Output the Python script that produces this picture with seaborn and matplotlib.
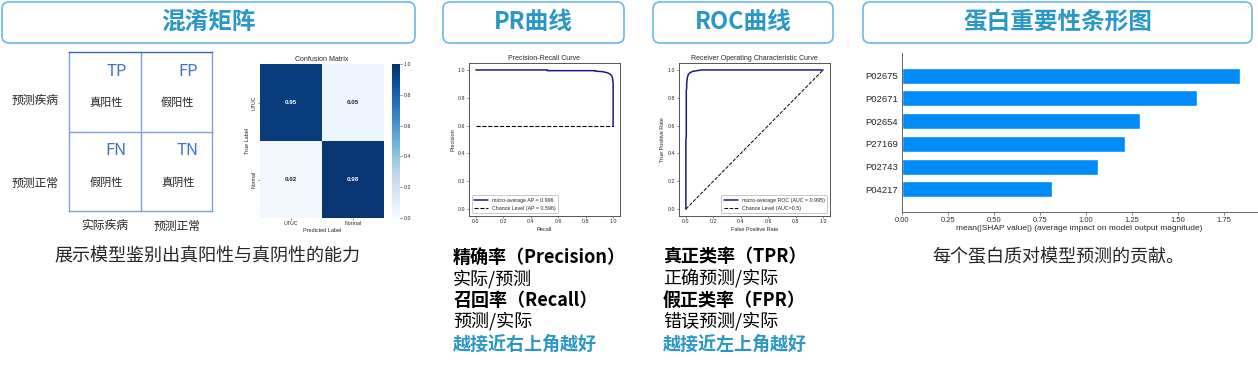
import numpy as np
import pandas as pd
import seaborn as sns
import matplotlib.pyplot as plt
from matplotlib.patches import FancyBboxPatch

W, H = 1258, 367

# ---- data ----
headers = ["混淆矩阵", "PR曲线", "ROC曲线", "蛋白重要性条形图"]

cm_labels = ["UTUC", "Normal"]
cm_values = [[0.95, 0.05], [0.02, 0.98]]

pr_recall = [0.0, 0.52, 0.52, 0.87, 0.87, 0.92, 0.95, 0.97, 0.98, 0.99, 0.995, 1.0, 1.0]
pr_precision = [1.0, 1.0, 0.995, 0.995, 0.992, 0.988, 0.982, 0.975, 0.968, 0.958, 0.945, 0.90, 0.596]
pr_chance_x = [0.0, 1.0]
pr_chance_y = [0.596, 0.596]

roc_fpr = [0.0, 0.0, 0.003, 0.003, 0.006, 0.006, 0.01, 0.015, 0.02, 0.03, 0.05, 0.08, 0.12, 1.0]
roc_tpr = [0.0, 0.50, 0.52, 0.85, 0.87, 0.90, 0.94, 0.96, 0.97, 0.98, 0.99, 0.995, 1.0, 1.0]
roc_chance = [0.0, 1.0]

proteins = ["P02675", "P02671", "P02654", "P27169", "P02743", "P04217"]
shap_mean = [1.837, 1.605, 1.295, 1.212, 1.063, 0.815]

sns.set_style("ticks")
cjk = ["Noto Sans CJK SC", "DejaVu Sans"]
plt.rcParams["font.family"] = ["Liberation Sans", "DejaVu Sans"]

fig = plt.figure(figsize=(W / 100, H / 100), dpi=100)


def rect(x0, y0, x1, y1):
    return [x0 / W, 1 - y1 / H, (x1 - x0) / W, (y1 - y0) / H]


# background layer in pixel coordinates
bg = fig.add_axes([0, 0, 1, 1])
bg.set_xlim(0, W)
bg.set_ylim(H, 0)
bg.axis("off")

title_blue = "#2A98C6"
boxes = [(2, 2, 415, 43), (443, 2, 624, 43), (653, 2, 833, 43), (863, 2, 1252, 43)]
for (x0, y0, x1, y1), t in zip(boxes, headers):
    bg.add_patch(FancyBboxPatch((x0, y0), x1 - x0, y1 - y0,
                                boxstyle="round,pad=0,rounding_size=7",
                                ec="#6BB8E8", fc="white", lw=1.2))
    bg.text((x0 + x1) / 2, 22, t, ha="center", va="center", fontsize=17,
            fontweight="bold", color=title_blue, family=cjk)

# schematic labels
bg.text(35, 100, "预测疾病", ha="center", va="center", fontsize=8.5, family=cjk)
bg.text(35, 183, "预测正常", ha="center", va="center", fontsize=8.5, family=cjk)
bg.text(105, 226, "实际疾病", ha="center", va="center", fontsize=8.5, family=cjk)
bg.text(177, 226, "预测正常", ha="center", va="center", fontsize=8.5, family=cjk)

# captions
bg.text(207, 257, "展示模型鉴别出真阳性与真阴性的能力", ha="center", va="center",
        fontsize=13, family=cjk)
bg.text(1058, 257, "每个蛋白质对模型预测的贡献。", ha="center", va="center",
        fontsize=13, family=cjk)

pr_lines = [("精确率（Precision）", "bold", "black"), ("实际/预测", "normal", "black"),
            ("召回率（Recall）", "bold", "black"), ("预测/实际", "normal", "black"),
            ("越接近右上角越好", "bold", title_blue)]
roc_lines = [("真正类率（TPR）", "bold", "black"), ("正确预测/实际", "normal", "black"),
             ("假正类率（FPR）", "bold", "black"), ("错误预测/实际", "normal", "black"),
             ("越接近左上角越好", "bold", title_blue)]
line_y = [257, 279, 300, 321, 344]
for x, block in [(453, pr_lines), (663, roc_lines)]:
    for y, (t, w, c) in zip(line_y, block):
        bg.text(x, y, t, ha="left", va="center", fontsize=13, fontweight=w,
                color=c, family=cjk)

# ---- schematic confusion grid ----
sch = fig.add_axes(rect(69, 52, 212, 211))
sch.set_xlim(0, 2)
sch.set_ylim(2, 0)
sch.set_xticks([])
sch.set_yticks([])
for s in sch.spines.values():
    s.set_color("#7F9FDB")
    s.set_linewidth(1.0)
sch.spines["top"].set_color("#3A62B5")
sch.axhline(1, color="#7F9FDB", lw=1.0)
sch.axvline(1, color="#7F9FDB", lw=1.0)
cells = [("TP", "真阳性", 0, 0), ("FP", "假阳性", 1, 0), ("FN", "假阴性", 0, 1), ("TN", "真阴性", 1, 1)]
for code, name, cx, cy in cells:
    sch.text(cx + 0.81, cy + 0.24, code, ha="right", va="center", fontsize=12,
             color="#4472C4", family=cjk)
    sch.text(cx + 0.52, cy + 0.64, name, ha="center", va="center", fontsize=8, family=cjk)

# ---- heatmap ----
ax_cm = fig.add_axes(rect(260, 64, 384, 218))
ax_cb = fig.add_axes(rect(392, 64, 400, 218))
cm_df = pd.DataFrame(cm_values, index=cm_labels, columns=cm_labels)
sns.heatmap(cm_df, annot=True, fmt=".2f", cmap="Blues", vmin=0, vmax=1, ax=ax_cm,
            cbar_ax=ax_cb, annot_kws={"size": 4.5, "weight": "bold"})
ax_cm.set_title("Confusion Matrix", fontsize=5, pad=2)
ax_cm.set_xlabel("Predicted Label", fontsize=4, labelpad=1)
ax_cm.set_ylabel("True Label", fontsize=4, labelpad=1)
ax_cm.tick_params(labelsize=3.8, length=1.5, width=0.4, pad=1)
ax_cm.set_yticklabels(cm_labels, rotation=90, va="center")
ax_cb.tick_params(labelsize=3.8, length=1.5, width=0.4, pad=1)
ax_cb.set_yticks([0, 0.2, 0.4, 0.6, 0.8, 1.0])

# ---- PR curve ----
ax_pr = fig.add_axes(rect(469, 63, 620, 216))
sns.lineplot(x=pr_recall, y=pr_precision, ax=ax_pr, color="#1a1a8c", lw=1.1,
             sort=False, estimator=None, label="micro-average AP = 0.996")
sns.lineplot(x=pr_chance_x, y=pr_chance_y, ax=ax_pr, color="black", lw=0.8,
             linestyle="--", sort=False, estimator=None, label="Chance Level (AP = 0.596)")
ax_pr.set_title("Precision-Recall Curve", fontsize=5, pad=2)
ax_pr.set_xlabel("Recall", fontsize=4, labelpad=2)
ax_pr.set_ylabel("Precision", fontsize=4, labelpad=2)

# ---- ROC curve ----
ax_roc = fig.add_axes(rect(679, 63, 830, 216))
sns.lineplot(x=roc_fpr, y=roc_tpr, ax=ax_roc, color="#1a1a8c", lw=1.1,
             sort=False, estimator=None, label="micro-average ROC (AUC = 0.995)")
sns.lineplot(x=roc_chance, y=roc_chance, ax=ax_roc, color="black", lw=0.7,
             linestyle="--", sort=False, estimator=None, label="Chance Level (AUC=0.5)")
ax_roc.set_title("Receiver Operating Characteristic Curve", fontsize=5, pad=2)
ax_roc.set_xlabel("False Positive Rate", fontsize=4, labelpad=2)
ax_roc.set_ylabel("True Positive Rate", fontsize=4, labelpad=2)

for ax, loc in [(ax_pr, "lower left"), (ax_roc, "lower right")]:
    ax.set_xlim(-0.05, 1.05)
    ax.set_ylim(-0.05, 1.05)
    ticks = [0.0, 0.2, 0.4, 0.6, 0.8, 1.0]
    ax.set_xticks(ticks)
    ax.set_yticks(ticks)
    ax.tick_params(labelsize=3.8, length=1.5, width=0.4, pad=1)
    for s in ax.spines.values():
        s.set_color("#555555")
        s.set_linewidth(0.7)
    leg = ax.legend(loc=loc, fontsize=3.8, frameon=True, handlelength=2.6,
                    borderpad=0.5, labelspacing=0.5)
    leg.get_frame().set_linewidth(0.4)
    leg.get_frame().set_edgecolor("#888888")

# ---- SHAP bar chart ----
ax_bar = fig.add_axes(rect(902, 53, 1257, 212))
sns.barplot(x=shap_mean, y=proteins, ax=ax_bar, color="#008BFB", orient="h",
            width=0.7, saturation=1)
ax_bar.set_xlim(0, 1.93)
ax_bar.set_ylim(6, -1)
ax_bar.set_xticks([0, 0.25, 0.5, 0.75, 1.0, 1.25, 1.5, 1.75])
ax_bar.set_xticklabels(["0.00", "0.25", "0.50", "0.75", "1.00", "1.25", "1.50", "1.75"])
ax_bar.set_xlabel("mean(|SHAP value|) (average impact on model output magnitude)",
                  fontsize=6, labelpad=1)
ax_bar.set_ylabel("")
ax_bar.tick_params(axis="x", labelsize=5.5, length=2, width=0.5, pad=1.5,
                   color="#555555", labelcolor="#333333")
ax_bar.tick_params(axis="y", labelsize=6.8, length=0, pad=3)
for side in ["top", "right"]:
    ax_bar.spines[side].set_visible(False)
for side in ["left", "bottom"]:
    ax_bar.spines[side].set_color("#666666")
    ax_bar.spines[side].set_linewidth(0.7)

fig.savefig("out.png", dpi=100, facecolor="white")
